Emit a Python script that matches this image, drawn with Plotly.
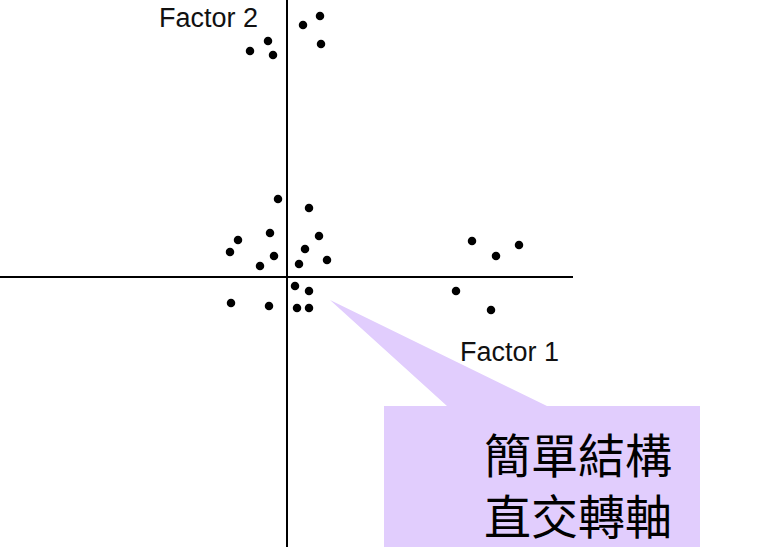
import plotly.graph_objects as go

# Factor loadings (Factor 1 on x, Factor 2 on y)
factor1 = [0.33, 0.16, -0.19, -0.37, -0.14, 0.34,
           -0.09, 0.22, -0.17, -0.49, 0.32, -0.57, -0.13, 0.18, -0.27, 0.12, 0.40,
           0.08, 0.22, -0.56, -0.18, 0.10, 0.22,
           1.85, 2.32, 2.09, 1.69, 2.04]
factor2 = [2.61, 2.52, 2.36, 2.26, 2.22, 2.33,
           0.78, 0.69, 0.44, 0.37, 0.41, 0.25, 0.21, 0.28, 0.11, 0.13, 0.17,
           -0.09, -0.14, -0.26, -0.29, -0.31, -0.31,
           0.36, 0.32, 0.21, -0.14, -0.33]

axis_labels = ["Factor 1", "Factor 2"]
callout_lines = ["簡單結構", "直交轉軸"]

X_RANGE = [-2.87, 4.87]
Y_RANGE = [-2.70, 2.77]

fig = go.Figure()
fig.add_trace(go.Scatter(
    x=factor1, y=factor2, mode="markers",
    marker=dict(color="black", size=8.5, line=dict(width=0)),
    hoverinfo="skip", showlegend=False))

# axes cross
fig.add_shape(type="line", x0=X_RANGE[0], x1=2.86, y0=0, y1=0,
              line=dict(color="black", width=2), layer="below")
fig.add_shape(type="line", x0=0, x1=0, y0=-2.70, y1=2.77,
              line=dict(color="black", width=2), layer="below")

# callout box with pointer
fig.add_shape(type="path",
              path="M 0.97,-1.29 L 1.60,-1.29 L 0.43,-0.23 L 2.60,-1.29 "
                   "L 4.13,-1.29 L 4.13,-2.90 L 0.97,-2.90 Z",
              fillcolor="rgb(225,205,253)", line=dict(width=0), layer="above")

fig.add_annotation(x=-1.30, y=2.59, text=axis_labels[1], showarrow=False,
                   xanchor="left", yanchor="middle",
                   font=dict(family="Liberation Sans, Arial", size=27, color="#111"))
fig.add_annotation(x=1.71, y=-0.75, text=axis_labels[0], showarrow=False,
                   xanchor="left", yanchor="middle",
                   font=dict(family="Liberation Sans, Arial", size=27, color="#111"))

fig.add_annotation(x=2.91, y=-2.055, text="<br>".join(callout_lines), showarrow=False,
                   xanchor="center", yanchor="middle", align="center",
                   font=dict(family="Noto Sans CJK TC", size=47, color="black"))

fig.update_xaxes(range=X_RANGE, visible=False, showgrid=False, zeroline=False, fixedrange=True)
fig.update_yaxes(range=Y_RANGE, visible=False, showgrid=False, zeroline=False, fixedrange=True)
fig.update_layout(width=774, height=547, margin=dict(l=0, r=0, t=0, b=0),
                  paper_bgcolor="white", plot_bgcolor="white")

fig.write_html("out.html", config={"displayModeBar": False},
               post_script="document.body.style.margin='0';document.body.style.overflow='hidden';")
